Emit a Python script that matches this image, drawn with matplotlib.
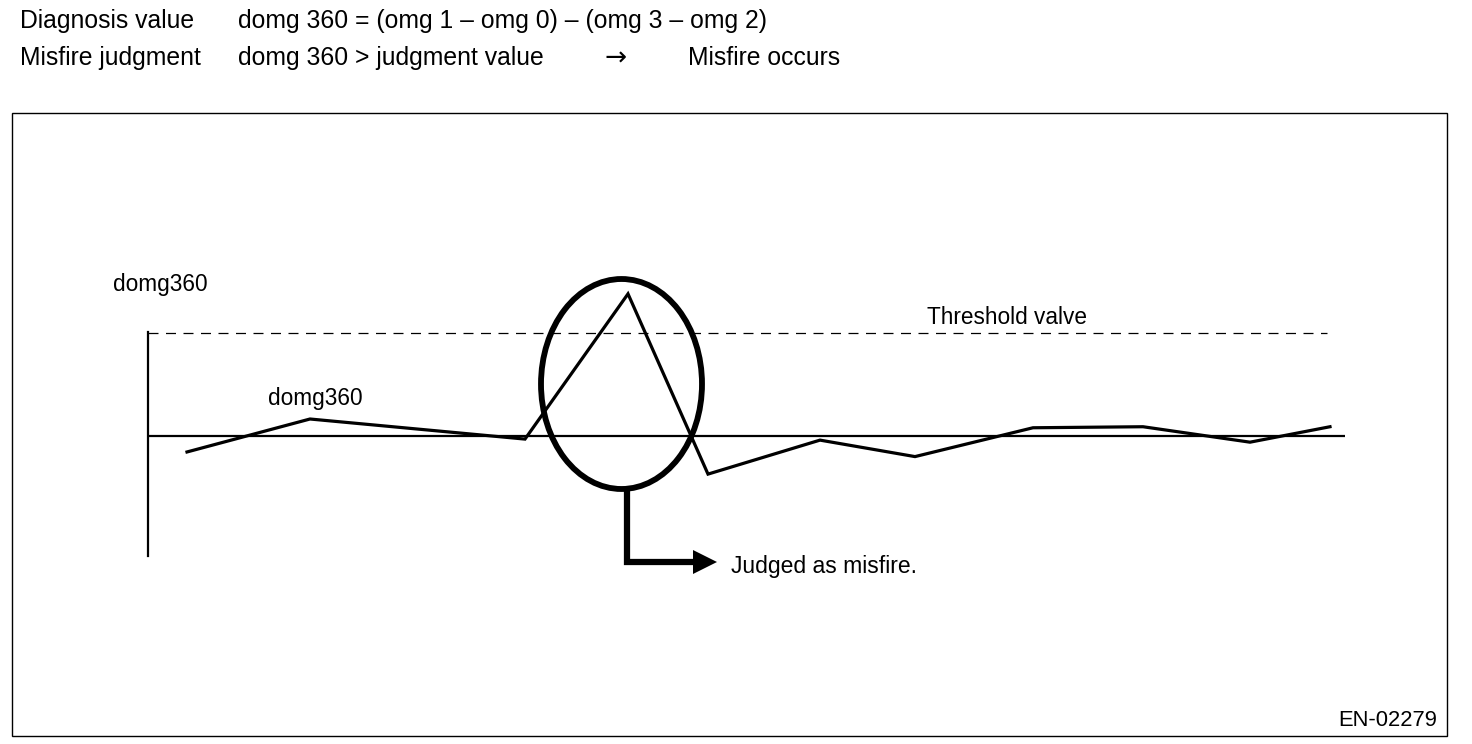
import matplotlib
matplotlib.use("Agg")
import matplotlib.pyplot as plt
from matplotlib.patches import Ellipse, Rectangle

plt.rcParams['font.family'] = ['Liberation Sans', 'DejaVu Sans']

# ---- data (time in arbitrary units, domg360 relative to threshold = 1.0) ----
time_pts = [0.39, 1.62, 3.77, 4.80, 5.60, 6.72, 7.67, 8.85, 9.95, 11.02, 11.82]
domg360 = [-0.155, 0.165, -0.03, 1.38, -0.37, -0.04, -0.20, 0.08, 0.09, -0.06, 0.09]
threshold = 1.0
x_end = 11.97
threshold_end = 11.79

header_labels = ["Diagnosis value", "Misfire judgment"]
header_texts = ["domg 360 = (omg 1 \u2013 omg 0) \u2013 (omg 3 \u2013 omg 2)",
                "domg 360 > judgment value"]
result_text = "Misfire occurs"

W, H = 1472, 744
fig = plt.figure(figsize=(W / 100, H / 100), dpi=100)

# overlay axes in pixel coordinates for frame & header
ov = fig.add_axes([0, 0, 1, 1])
ov.set_xlim(0, W)
ov.set_ylim(H, 0)
ov.axis('off')

fs = 17.8
ov.text(20, 21, header_labels[0], fontsize=fs, va='center', ha='left')
ov.text(238, 21, header_texts[0], fontsize=fs, va='center', ha='left')
ov.text(20, 58, header_labels[1], fontsize=fs, va='center', ha='left')
ov.text(238, 58, header_texts[1], fontsize=fs, va='center', ha='left')
ov.text(616, 59, "\u2192", fontsize=19, va='center', ha='center', family=['Noto Sans', 'DejaVu Sans'])
ov.text(688, 58, result_text, fontsize=fs, va='center', ha='left')

ov.add_patch(Rectangle((12, 113), 1435, 623, fill=False, lw=1.0, ec='black'))
ov.text(1437, 720, "EN-02279", fontsize=15.8, va='center', ha='right')

# data axes
px_per_x = 100.0
px_per_y = 103.0
x0_px, y0_px = 148, 436
top_px, bot_px = 270, 620
ax = fig.add_axes([x0_px / W, (H - bot_px) / H, (1345 - x0_px) / W, (bot_px - top_px) / H])
ax.set_xlim(0, x_end)
ax.set_ylim(-(bot_px - y0_px) / px_per_y, (y0_px - top_px) / px_per_y)
ax.patch.set_alpha(0)
for s in ['top', 'right', 'bottom']:
    ax.spines[s].set_visible(False)
ax.spines['left'].set_linewidth(1.6)
ax.spines['left'].set_bounds(-(556 - y0_px) / px_per_y, (y0_px - 332) / px_per_y)
ax.set_xticks([])
ax.set_yticks([])

ax.axhline(0, color='black', lw=1.6)
ax.plot([0, threshold_end], [threshold, threshold], color='black', lw=0.9,
        dashes=(8, 6))
ax.plot(time_pts, domg360, color='black', lw=2.3, solid_joinstyle='miter')

# labels
lfs = 16.3
ax.text(-0.35, (y0_px - 285) / px_per_y, "domg360", fontsize=lfs, va='center', ha='left')
ax.text(1.2, (y0_px - 398) / px_per_y, "domg360", fontsize=lfs, va='center', ha='left')
ax.text(7.79, (y0_px - 318) / px_per_y, "Threshold valve", fontsize=lfs, va='center', ha='left')

# ellipse around misfire peak
ell_cx, ell_cy = 4.735, (y0_px - 384) / px_per_y
ax.add_patch(Ellipse((ell_cx, ell_cy), 1.61, 210 / px_per_y, fill=False, lw=4.2, ec='black'))

# connector arrow
ell_bottom = ell_cy - 105 / px_per_y
arrow_y = (y0_px - 562) / px_per_y
arrow_x = 4.79
ax.plot([arrow_x, arrow_x, 5.46], [ell_bottom, arrow_y, arrow_y], color='black', lw=4.5,
        solid_joinstyle='miter', solid_capstyle='butt')
ax.fill([5.45, 5.69, 5.45], [arrow_y + 12 / px_per_y, arrow_y, arrow_y - 12 / px_per_y],
        color='black', lw=0)
ax.text(5.83, arrow_y - 4 / px_per_y, "Judged as misfire.", fontsize=16.5, va='center', ha='left')

fig.savefig("out.png", dpi=100, facecolor='white')
